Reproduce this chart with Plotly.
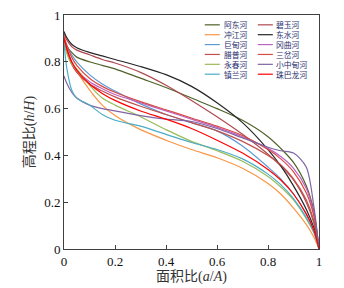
import plotly.graph_objects as go

x_ratio = [0, 0.01, 0.03, 0.05, 0.1, 0.15, 0.2, 0.3, 0.4, 0.5, 0.6, 0.7, 0.8, 0.85, 0.9, 0.95, 0.98, 1]

names = ["阿东河", "碧玉河", "冲江河", "东水河", "巨甸河", "冈曲河",
         "腊普河", "三岔河", "永春河", "小中甸河", "镇兰河", "珠巴龙河"]

adong = [0.90, 0.87, 0.84, 0.82, 0.80, 0.785, 0.77, 0.73, 0.69, 0.645, 0.60, 0.55, 0.48, 0.43, 0.37, 0.27, 0.16, 0]
biyu = [0.92, 0.895, 0.865, 0.85, 0.83, 0.81, 0.795, 0.755, 0.70, 0.635, 0.565, 0.49, 0.405, 0.355, 0.295, 0.20, 0.11, 0]
chongjiang = [0.88, 0.85, 0.80, 0.76, 0.68, 0.615, 0.57, 0.51, 0.465, 0.425, 0.39, 0.345, 0.28, 0.235, 0.175, 0.105, 0.05, 0]
dongshui = [0.93, 0.905, 0.875, 0.86, 0.84, 0.825, 0.81, 0.78, 0.745, 0.695, 0.625, 0.54, 0.425, 0.355, 0.27, 0.17, 0.09, 0]
judian = [0.90, 0.87, 0.83, 0.80, 0.745, 0.705, 0.675, 0.62, 0.575, 0.54, 0.505, 0.44, 0.35, 0.30, 0.235, 0.15, 0.08, 0]
gangqu = [0.90, 0.86, 0.80, 0.765, 0.715, 0.685, 0.66, 0.625, 0.59, 0.555, 0.52, 0.48, 0.43, 0.395, 0.345, 0.26, 0.15, 0]
lapu = [0.89, 0.85, 0.79, 0.755, 0.705, 0.675, 0.65, 0.61, 0.575, 0.54, 0.505, 0.46, 0.40, 0.36, 0.30, 0.21, 0.12, 0]
sancha = [0.91, 0.875, 0.82, 0.785, 0.73, 0.695, 0.67, 0.63, 0.595, 0.56, 0.525, 0.485, 0.425, 0.385, 0.33, 0.24, 0.14, 0]
yongchun = [0.88, 0.84, 0.79, 0.77, 0.70, 0.645, 0.615, 0.565, 0.51, 0.46, 0.42, 0.375, 0.31, 0.265, 0.21, 0.13, 0.07, 0]
xiaozhongdian = [0.74, 0.71, 0.67, 0.645, 0.615, 0.60, 0.59, 0.57, 0.555, 0.545, 0.515, 0.475, 0.435, 0.42, 0.41, 0.35, 0.18, 0]
zhenlan = [0.88, 0.78, 0.68, 0.645, 0.615, 0.575, 0.55, 0.525, 0.49, 0.455, 0.425, 0.385, 0.32, 0.275, 0.215, 0.135, 0.07, 0]
zhubalong = [0.90, 0.86, 0.80, 0.765, 0.705, 0.665, 0.635, 0.59, 0.555, 0.515, 0.465, 0.41, 0.34, 0.295, 0.235, 0.15, 0.08, 0]

series = [adong, biyu, chongjiang, dongshui, judian, gangqu,
          lapu, sancha, yongchun, xiaozhongdian, zhenlan, zhubalong]
colors = ["#4F6228", "#B04A50", "#F79646", "#262626", "#5B9BD5", "#C060C0",
          "#C0504D", "#D84A45", "#9BBB59", "#8064A2", "#4BACC6", "#FF0000"]

fig = go.Figure()
for nm, ys, c in zip(names, series, colors):
    fig.add_trace(go.Scatter(x=x_ratio, y=ys, mode="lines", name=nm,
                             line=dict(color=c, width=1.2, shape="spline", smoothing=0.8),
                             showlegend=False))

# manual two-column legend
col_x = [(0.552, 0.611, 0.625), (0.760, 0.819, 0.829)]
y0, dy = 0.958, 0.0422
for i, (nm, c) in enumerate(zip(names, colors)):
    col = i % 2
    row = i // 2
    xs, xe, xt = col_x[col]
    yy = y0 - row * dy
    fig.add_shape(type="line", xref="paper", yref="paper", x0=xs, x1=xe, y0=yy, y1=yy,
                  line=dict(color=c, width=1.2))
    fig.add_annotation(xref="paper", yref="paper", x=xt, y=yy, text=nm, showarrow=False,
                       xanchor="left", yanchor="middle", borderpad=0,
                       font=dict(family="Noto Sans CJK SC", size=7.8, color="#1f2d6e"))

axis_common = dict(range=[0, 1], showgrid=False, zeroline=False, showline=True,
                   linecolor="#404040", linewidth=1, mirror=True,
                   ticks="inside", ticklen=4, tickcolor="#404040",
                   tickfont=dict(family="Liberation Serif", size=13, color="#111111"),
                   tickvals=[0, 0.2, 0.4, 0.6, 0.8, 1],
                   ticktext=["0", "0.2", "0.4", "0.6", "0.8", "1"])

fig.update_xaxes(**axis_common,
                 title=dict(text="面积比(<i>a</i>/<i>A</i>)", standoff=2,
                            font=dict(family="Liberation Serif, Noto Sans CJK SC", size=14, color="#333333")))
fig.update_yaxes(**axis_common,
                 title=dict(text="高程比(<i>h</i>/<i>H</i>)", standoff=6,
                            font=dict(family="Liberation Serif, Noto Sans CJK SC", size=14, color="#333333")))

fig.update_layout(width=344, height=288, margin=dict(l=64, r=25, t=8, b=36),
                  plot_bgcolor="white", paper_bgcolor="white")

fig.write_html("out.html", config={"displayModeBar": False},
               post_script="document.body.style.margin='0';document.body.style.overflow='hidden';")
